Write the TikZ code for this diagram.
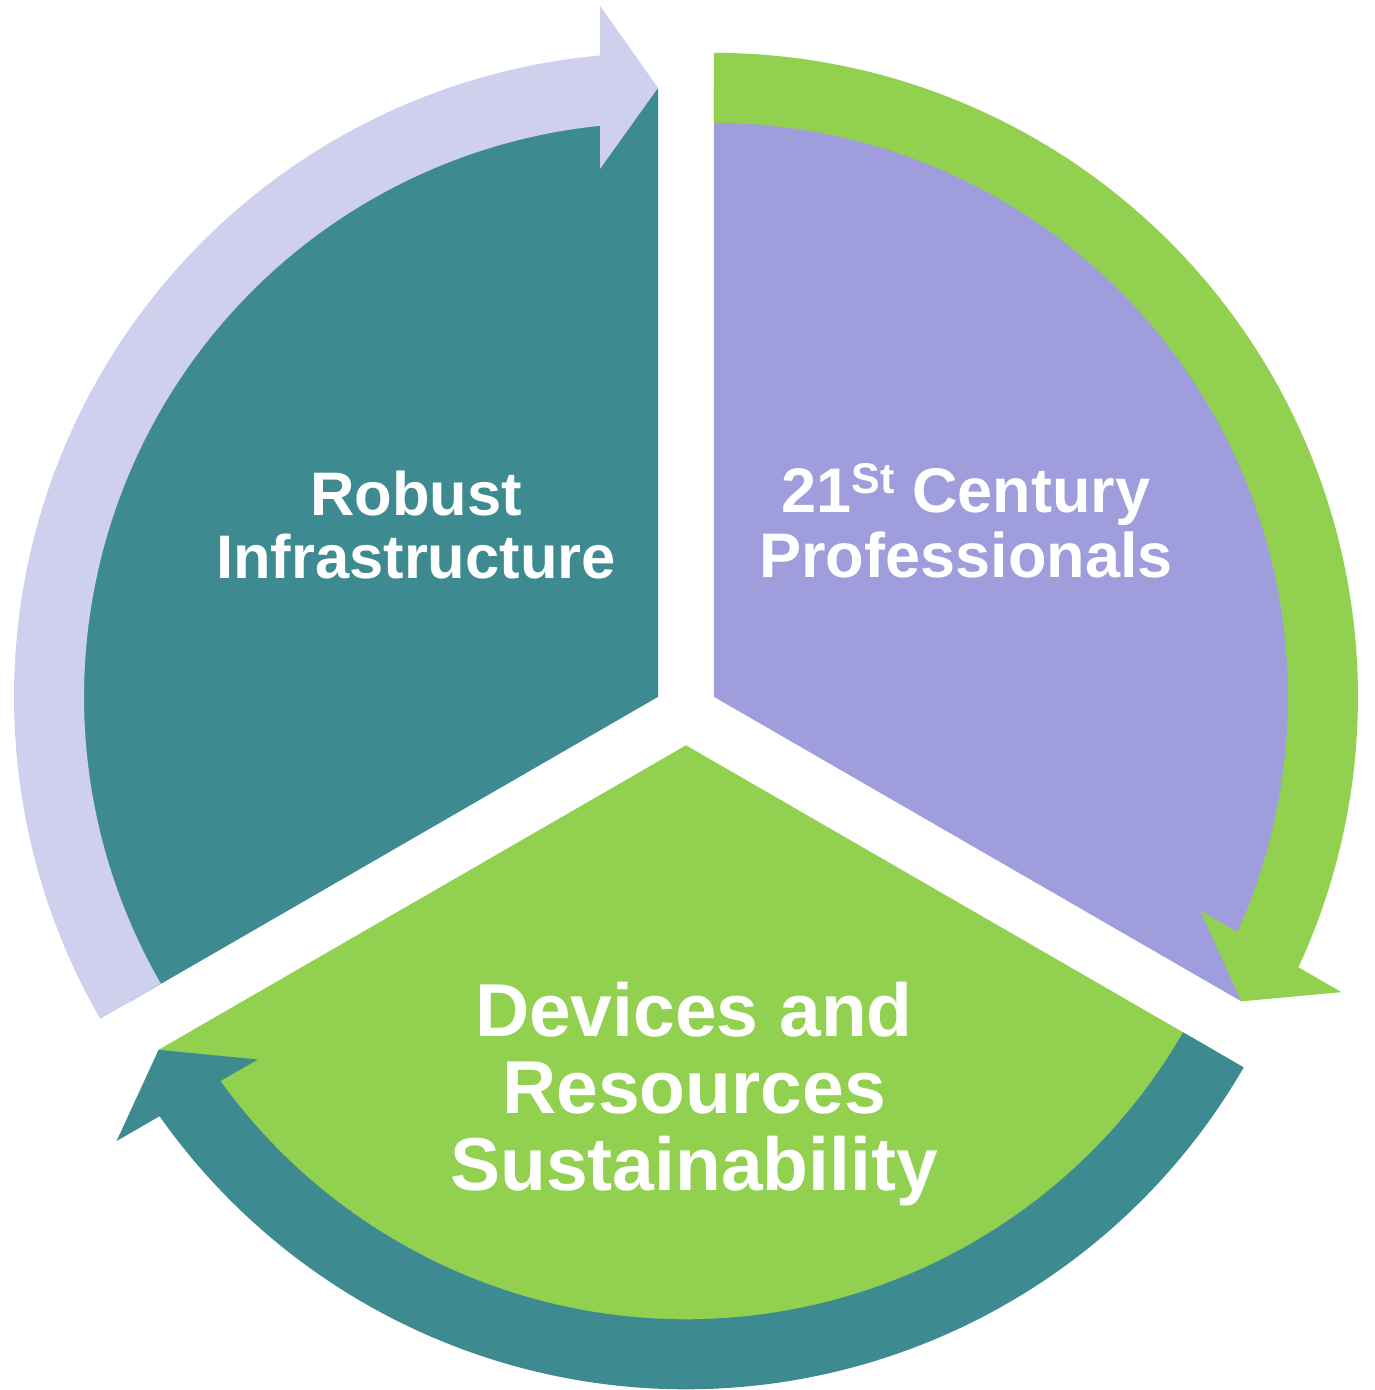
\documentclass[tikz,border=0pt]{standalone}
\usepackage{fontspec}
\setmainfont{Liberation Sans}
\definecolor{segteal}{RGB}{61,139,145}
\definecolor{segpurple}{RGB}{159,157,220}
\definecolor{seggreen}{RGB}{146,208,80}
\definecolor{seglilac}{RGB}{207,207,238}

\begin{document}
\begin{tikzpicture}[x=1pt,y=1pt,
    seglabel/.style={text=white,align=center,inner sep=0pt}]
  \useasboundingbox (0,0) rectangle (1374,-1390);
  \coordinate (C) at (686,-713);
  % pie pieces, pushed out from the middle
  \foreach \a/\col in {0/segteal, -120/segpurple, -240/seggreen} {
    \fill[\col, shift={(C)}, rotate=\a, shift={(150:32.3)}]
      (0,0) -- (90:609) arc[start angle=90, end angle=210, radius=609] -- cycle;
  }
  % curved arrow round each piece
  \foreach \a/\col in {0/seglilac, -120/seggreen, -240/segteal} {
    \fill[\col, shift={(C)}, rotate=\a, shift={(150:32.3)}]
      (210:644) arc[start angle=210, end angle=95.17, radius=644]
      -- (-58,691) -- (0,609) -- (-58,528) -- (95.8:574)
      arc[start angle=95.8, end angle=210, radius=574] -- cycle;
  }
  \node[seglabel, font=\bfseries\fontsize{61.5}{62.6}\selectfont] (infra) at (416,-525)
    {Robust\\Infrastructure};
  \node[seglabel, font=\bfseries\fontsize{63}{65}\selectfont] (profs) at (966,-521)
    {21\raisebox{19pt}{\fontsize{43}{43}\selectfont St} Century\\Professionals};
  \node[seglabel, font=\bfseries\fontsize{75}{77}\selectfont] (devices) at (694,-1094)
    {Devices and\\Resources\\Sustainability};
\end{tikzpicture}
\end{document}
